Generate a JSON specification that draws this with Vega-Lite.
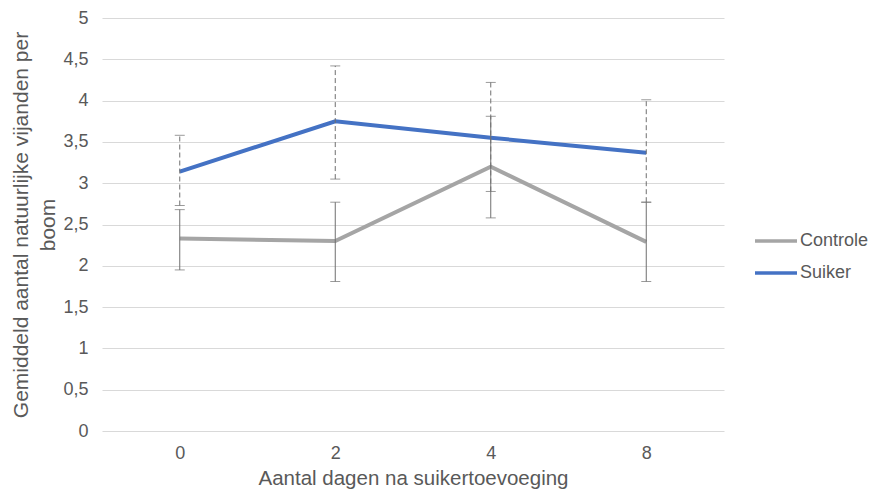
{
  "$schema": "https://vega.github.io/schema/vega-lite/v6.json",
  "autosize": {"type": "none"},
  "padding": {"left": 102, "top": 18, "right": 145, "bottom": 62},
  "width": 622,
  "height": 413,
  "background": "white",
  "config": {
    "view": {"stroke": null},
    "font": "Liberation Sans",
    "axis": {"labelColor": "#595959", "titleColor": "#595959", "labelFont": "Liberation Sans", "titleFont": "Liberation Sans", "titleFontWeight": "normal"},
    "legend": {"labelColor": "#595959", "labelFont": "Liberation Sans"}
  },
  "data": {
    "values": [
      {"dag": "0", "reeks": "Controle", "gem": 2.33, "laag": 1.95, "hoog": 2.68},
      {"dag": "2", "reeks": "Controle", "gem": 2.30, "laag": 1.81, "hoog": 2.77},
      {"dag": "4", "reeks": "Controle", "gem": 3.20, "laag": 2.58, "hoog": 3.81},
      {"dag": "8", "reeks": "Controle", "gem": 2.29, "laag": 1.81, "hoog": 2.77},
      {"dag": "0", "reeks": "Suiker", "gem": 3.14, "laag": 2.73, "hoog": 3.58},
      {"dag": "2", "reeks": "Suiker", "gem": 3.75, "laag": 3.05, "hoog": 4.42},
      {"dag": "4", "reeks": "Suiker", "gem": 3.55, "laag": 2.90, "hoog": 4.22},
      {"dag": "8", "reeks": "Suiker", "gem": 3.37, "laag": 2.77, "hoog": 4.01}
    ]
  },
  "encoding": {
    "x": {
      "field": "dag", "type": "ordinal",
      "scale": {"type": "point", "domain": ["0", "2", "4", "8"], "padding": 0.5},
      "axis": {"title": "Aantal dagen na suikertoevoeging", "labelAngle": 0, "domain": false, "ticks": false, "grid": false, "labelFontSize": 18, "titleFontSize": 20.5, "labelPadding": 13, "titlePadding": 6}
    }
  },
  "layer": [
    {
      "mark": {"type": "line", "strokeWidth": 4, "strokeCap": "butt", "strokeJoin": "miter"},
      "encoding": {
        "y": {
          "field": "gem", "type": "quantitative",
          "scale": {"domain": [0, 5], "nice": false, "zero": true},
          "axis": {
            "title": ["Gemiddeld aantal natuurlijke vijanden per", "boom"],
            "values": [0, 0.5, 1, 1.5, 2, 2.5, 3, 3.5, 4, 4.5, 5],
            "format": ".1~f",
            "labelExpr": "replace(datum.label, '.', ',')",
            "domain": false, "ticks": false, "grid": true, "gridColor": "#D9D9D9", "gridWidth": 1,
            "labelFontSize": 18, "titleFontSize": 21, "labelPadding": 14, "titlePadding": 4, "titleLineHeight": 27
          }
        },
        "color": {
          "field": "reeks", "type": "nominal",
          "scale": {"domain": ["Controle", "Suiker"], "range": ["#A5A5A5", "#4472C4"]},
          "legend": {
            "title": null, "orient": "none", "legendX": 651, "legendY": 200,
            "symbolType": "stroke", "symbolSize": 1764, "symbolStrokeWidth": 3.5,
            "labelFontSize": 18, "labelOffset": 1, "rowPadding": 0
          }
        }
      }
    },
    {
      "transform": [{"filter": "datum.reeks === 'Controle'"}],
      "mark": {"type": "rule", "color": "#6F6F6F", "strokeWidth": 1},
      "encoding": {
        "y": {"field": "laag", "type": "quantitative"},
        "y2": {"field": "hoog"}
      }
    },
    {
      "transform": [{"filter": "datum.reeks === 'Suiker'"}],
      "mark": {"type": "rule", "color": "#6F6F6F", "strokeWidth": 1, "strokeDash": [5, 3]},
      "encoding": {
        "y": {"field": "laag", "type": "quantitative"},
        "y2": {"field": "hoog"}
      }
    },
    {
      "mark": {"type": "tick", "color": "#6F6F6F", "thickness": 1, "size": 10, "orient": "horizontal"},
      "encoding": {"y": {"field": "laag", "type": "quantitative"}}
    },
    {
      "mark": {"type": "tick", "color": "#6F6F6F", "thickness": 1, "size": 10, "orient": "horizontal"},
      "encoding": {"y": {"field": "hoog", "type": "quantitative"}}
    }
  ]
}
